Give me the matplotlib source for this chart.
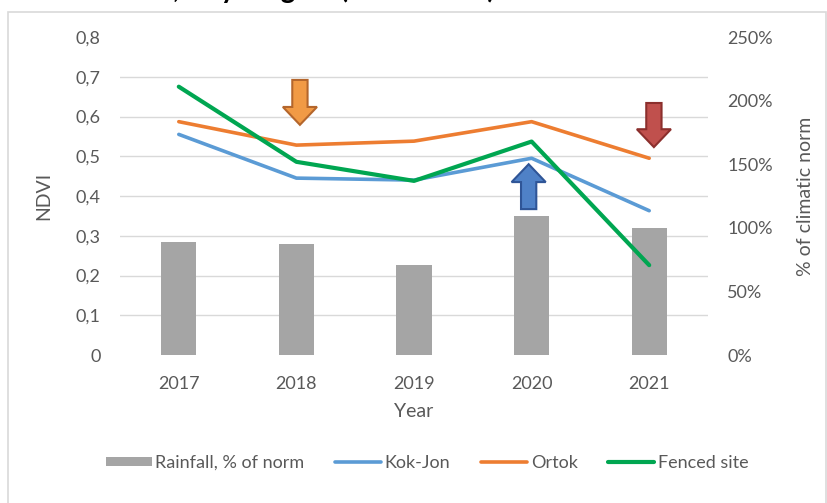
"""NDVI of three sites vs rainfall (% of climatic norm), 2017-2021."""

import matplotlib

matplotlib.use("Agg")
import matplotlib.pyplot as plt  # noqa: E402
from matplotlib.patches import FancyArrow, Rectangle  # noqa: E402
from matplotlib.ticker import FuncFormatter, MultipleLocator  # noqa: E402

years = ["2017", "2018", "2019", "2020", "2021"]
rainfall_pct = [89, 87, 71, 109, 100]
kok_jon = [0.555, 0.445, 0.44, 0.495, 0.363]
ortok = [0.587, 0.528, 0.538, 0.587, 0.495]
fenced = [0.675, 0.486, 0.438, 0.537, 0.226]

TXT = "#595959"
GRID = "#D9D9D9"
plt.rcParams["font.family"] = ["Lato", "DejaVu Sans"]

fig = plt.figure(figsize=(8.27, 5.03), dpi=100)
W, H = 827, 503
ax = fig.add_axes([120 / W, (H - 355) / H, 588 / W, 318 / H])
ax_bar = ax.twinx()
ax.set_zorder(ax_bar.get_zorder() + 1)
ax.patch.set_visible(False)

x = range(len(years))

# bars on the secondary (% of norm) axis, drawn underneath
ax_bar.bar(x, rainfall_pct, width=0.3, color="#A5A5A5", zorder=2,
           label="Rainfall, % of norm")
ax_bar.set_ylim(0, 250)
ax_bar.yaxis.set_major_locator(MultipleLocator(50))
ax_bar.yaxis.set_minor_locator(MultipleLocator(31.25))
ax_bar.yaxis.set_major_formatter(FuncFormatter(lambda v, _: f"{v:.0f}%"))
ax_bar.grid(True, which="minor", axis="y", color=GRID, linewidth=1, zorder=0)
ax_bar.set_axisbelow(True)
ax_bar.tick_params(axis="y", which="both", length=0, pad=14, labelsize=13,
                   labelcolor=TXT)
ax_bar.set_ylabel("% of climatic norm", fontsize=14, color=TXT)
ax_bar.yaxis.set_label_coords(1.151, 0.5)

# NDVI lines on the primary axis
ax.plot(x, kok_jon, color="#5B9BD5", linewidth=2.6, label="Kok-Jon",
        solid_capstyle="round")
ax.plot(x, ortok, color="#ED7D31", linewidth=2.6, label="Ortok",
        solid_capstyle="round")
ax.plot(x, fenced, color="#00A651", linewidth=3.0, label="Fenced site",
        solid_capstyle="round")
ax.set_ylim(0, 0.8)
ax.set_xlim(-0.5, len(years) - 0.5)
ax.yaxis.set_major_locator(MultipleLocator(0.1))
ax.yaxis.set_major_formatter(
    FuncFormatter(lambda v, _: "0" if abs(v) < 1e-9 else f"{v:.1f}".replace(".", ","))
)
ax.set_xticks(list(x))
ax.set_xticklabels(years)
ax.tick_params(axis="y", length=0, pad=14, labelsize=13, labelcolor=TXT)
ax.tick_params(axis="x", length=0, pad=15, labelsize=13, labelcolor=TXT)
ax.set_ylabel("NDVI", fontsize=14, color=TXT)
ax.yaxis.set_label_coords(-0.116, 0.5)
ax.set_xlabel("Year", fontsize=14, color=TXT, labelpad=8)

for a in (ax, ax_bar):
    for s in a.spines.values():
        s.set_visible(False)

# annotation arrows: (x centre, tail, tip, fill, edge)
arrows = [
    (1.03, 0.692, 0.579, "#F19A45", "#B4662C"),
    (2.975, 0.367, 0.480, "#4F81C7", "#2F5597"),
    (4.04, 0.634, 0.523, "#C0504D", "#8B2F2D"),
]
for ax_x, tail, tip, fc, ec in arrows:
    ax.add_patch(FancyArrow(ax_x, tail, 0, tip - tail, width=0.13,
                            head_width=0.29, head_length=0.045,
                            length_includes_head=True, facecolor=fc,
                            edgecolor=ec, linewidth=1.5, zorder=5))

# legend
handles = ax_bar.get_legend_handles_labels()[0] + ax.get_legend_handles_labels()[0]
labels = ["Rainfall, % of norm", "Kok-Jon", "Ortok", "Fenced site"]
fig.legend(handles, labels, loc="center", bbox_to_anchor=(427 / W, 1 - 463 / H),
           ncol=4, frameon=False, fontsize=13, handlelength=2.55,
           handleheight=0.45, columnspacing=1.7, handletextpad=0.2,
           labelcolor=TXT)

# chart frame and the caption above it, clipped by the figure edge
fig.add_artist(Rectangle((8 / W, -0.02), 818 / W, 1.02 - 12 / H,
                         transform=fig.transFigure, fill=False,
                         edgecolor=GRID, linewidth=1.2))
fig.text(103 / W, 1 + 2 / H, "NDVI, July-August (2017-2021)", fontsize=20,
         fontweight="bold", color="black", va="baseline", ha="left")

fig.savefig("out.png", dpi=100)
